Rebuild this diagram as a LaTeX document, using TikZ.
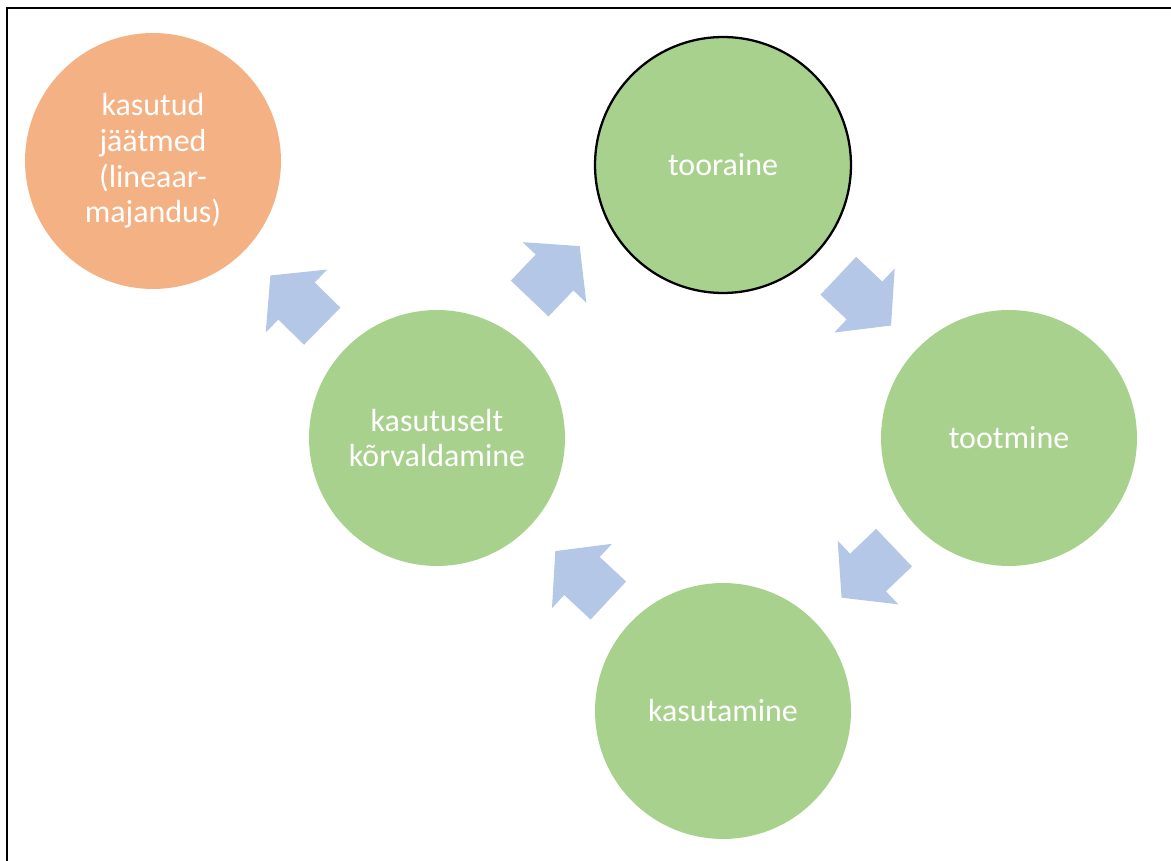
\documentclass[tikz,border=0pt]{standalone}
\usepackage{fontspec}
\setmainfont{Carlito}
\definecolor{cStage}{HTML}{A9D18E}
\definecolor{cWaste}{HTML}{F4B183}
\definecolor{cFlow}{HTML}{B4C7E7}

\begin{document}
\begin{tikzpicture}[
  x=0.02cm, y=-0.02cm,
  stage/.style={circle, fill=#1, draw=none, minimum size=5.12cm, inner sep=0pt,
                align=center, text=white, font=\fontsize{18.2}{20.3}\selectfont},
  blockarrow/.style={fill=cFlow, draw=none},
]
\useasboundingbox (0,0) rectangle (1171,861);

% ---------------- frame ----------------
\draw[line width=.7pt] (7,861) -- (7,8) -- (1171,8);

% ---------------- stages ----------------
\node[stage=cWaste] (waste) at (153,161) {kasutud\\jäätmed\\(lineaar-\\majandus)};
\node[stage=cStage, draw=black, line width=1.3pt] (raw) at (723,165) {tooraine};
\node[stage=cStage] (prod) at (1009,438) {tootmine};
\node[stage=cStage] (use) at (723,711) {kasutamine};
\node[stage=cStage] (disp) at (437,438) {kasutuselt\\kõrvaldamine};

% ---------------- block arrows ----------------
\foreach \x/\y/\a in {554.5/272.5/46.4, 864.5/300.5/-43.3, 868/572.5/-136.4,
                      582/576/137, 296.5/301/135.6}{
  \begin{scope}[shift={(\x,\y)}, rotate=\a]
    \fill[blockarrow] (-36,-26) -- (0,-26) -- (0,-44) -- (36.5,0)
      -- (0,44) -- (0,26) -- (-36,26) -- cycle;
  \end{scope}}

\end{tikzpicture}
\end{document}
